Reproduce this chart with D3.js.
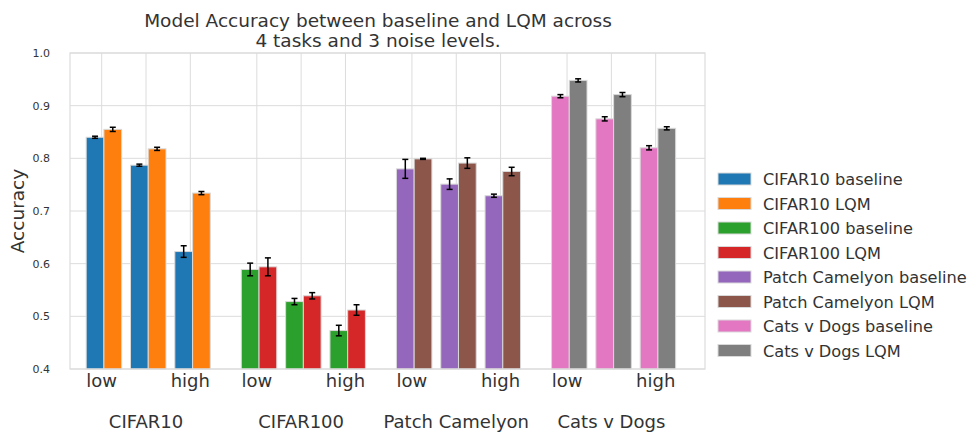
<!DOCTYPE html>
<html>
<head>
<meta charset="utf-8">
<script src="https://cdn.jsdelivr.net/npm/d3@7"></script>
<style>
  body { margin: 0; background: #fff; }
  svg text { font-family: "DejaVu Sans", sans-serif; }
</style>
</head>
<body>
<div id="chart"></div>
<script>
// ---------------------------------- DATA ---------------------------------- //

let tasks = ['CIFAR10', 'CIFAR100', 'Patch Camelyon', 'Cats v Dogs'];
let noise_levels = ['low', 'mid', 'high'];
let noise_tick_labels = ['low', '', 'high'];
let y_ticks = [0.4, 0.5, 0.6, 0.7, 0.8, 0.9, 1.0];

// one row per task, one value per noise level
let baseline_values = [
  [0.840, 0.787, 0.623],
  [0.589, 0.528, 0.473],
  [0.780, 0.751, 0.729],
  [0.918, 0.875, 0.820]
];
let baseline_errors = [
  [0.002, 0.002, 0.011],
  [0.012, 0.006, 0.010],
  [0.018, 0.010, 0.003],
  [0.003, 0.004, 0.004]
];
let lqm_values = [
  [0.855, 0.818, 0.734],
  [0.594, 0.539, 0.512],
  [0.799, 0.791, 0.775],
  [0.948, 0.921, 0.857]
];
let lqm_errors = [
  [0.004, 0.003, 0.003],
  [0.017, 0.006, 0.010],
  [0.001, 0.010, 0.008],
  [0.003, 0.004, 0.003]
];
let baseline_colors = ['#1f77b4', '#2ca02c', '#9467bd', '#e377c2'];
let lqm_colors = ['#ff7f0e', '#d62728', '#8c564b', '#7f7f7f'];

// ---------------------------------- SETTINGS ---------------------------------- //

let img_width = 969;
let img_height = 433;
let plot_left = 70;
let plot_right = 705;
let plot_top = 53;
let plot_bottom = 369;
let text_color = '#333333';
let grid_color = '#dcdcdc';

// position of each bar pair in "tick units" (3 per task, 1.5 gap between tasks)
function tickPos(t, n) { return t * 3.5 + n; }

let x = d3.scaleLinear().domain([0, 12.5]).range([101.7, 655.7]);
let y = d3.scaleLinear().domain([0.4, 1.0]).range([plot_bottom, plot_top]);

// ---------------------------------- CORE IMAGE ---------------------------------- //

let svg = d3.select('#chart')
  .append('svg')
  .attr('width', img_width)
  .attr('height', img_height);

// title
svg.append('text')
  .attr('x', 378).attr('y', 27)
  .attr('text-anchor', 'middle')
  .attr('fill', text_color)
  .style('font-size', '18.5px')
  .text('Model Accuracy between baseline and LQM across');
svg.append('text')
  .attr('x', 378).attr('y', 47)
  .attr('text-anchor', 'middle')
  .attr('fill', text_color)
  .style('font-size', '18.5px')
  .text('4 tasks and 3 noise levels.');

// ---------------------------------- GRID ---------------------------------- //

let g_grid = svg.append('g');
g_grid.selectAll('line.h')
  .data(y_ticks)
  .enter()
  .append('line')
  .attr('x1', plot_left).attr('x2', plot_right)
  .attr('y1', d => y(d)).attr('y2', d => y(d))
  .attr('stroke', grid_color).attr('stroke-width', 1);

let pair_positions = [];
tasks.forEach((t, ti) => noise_levels.forEach((n, ni) => pair_positions.push(tickPos(ti, ni))));

g_grid.selectAll('line.v')
  .data(pair_positions)
  .enter()
  .append('line')
  .attr('x1', d => x(d)).attr('x2', d => x(d))
  .attr('y1', plot_top).attr('y2', plot_bottom)
  .attr('stroke', grid_color).attr('stroke-width', 1);

// ---------------------------------- BARS ---------------------------------- //

let bar_rows = [];
tasks.forEach((t, ti) => {
  noise_levels.forEach((n, ni) => {
    bar_rows.push({ pos: tickPos(ti, ni), off: -0.35, v: baseline_values[ti][ni], e: baseline_errors[ti][ni], c: baseline_colors[ti] });
    bar_rows.push({ pos: tickPos(ti, ni), off: 0.05, v: lqm_values[ti][ni], e: lqm_errors[ti][ni], c: lqm_colors[ti] });
  });
});

let bar_w = x(0.4) - x(0);

let g_bars = svg.append('g');
g_bars.selectAll('rect')
  .data(bar_rows)
  .enter()
  .append('rect')
  .attr('x', d => x(d.pos + d.off))
  .attr('y', d => y(d.v))
  .attr('width', bar_w)
  .attr('height', d => y(0.4) - y(d.v))
  .attr('fill', d => d.c)
  .attr('stroke', '#d9d9d9')
  .attr('stroke-width', 1);

// error bars
let g_err = svg.append('g').attr('stroke', '#000').attr('stroke-width', 1.5);
bar_rows.forEach(d => {
  let cx = x(d.pos + d.off) + bar_w / 2;
  let y1 = y(d.v + d.e);
  let y2 = y(d.v - d.e);
  g_err.append('line').attr('x1', cx).attr('x2', cx).attr('y1', y1).attr('y2', y2);
  g_err.append('line').attr('x1', cx - 3).attr('x2', cx + 3).attr('y1', y1).attr('y2', y1);
  g_err.append('line').attr('x1', cx - 3).attr('x2', cx + 3).attr('y1', y2).attr('y2', y2);
});

// frame
svg.append('rect')
  .attr('x', plot_left).attr('y', plot_top)
  .attr('width', plot_right - plot_left).attr('height', plot_bottom - plot_top)
  .attr('fill', 'none')
  .attr('stroke', grid_color).attr('stroke-width', 1.2);

// ---------------------------------- AXES ---------------------------------- //

let y_axis = svg.append('g')
  .attr('transform', `translate(${plot_left},0)`)
  .call(d3.axisLeft(y).tickValues(y_ticks).tickFormat(d3.format('.1f')).tickSize(0).tickPadding(20));
y_axis.select('.domain').remove();
y_axis.selectAll('text').attr('fill', text_color).style('font-size', '11px');

svg.append('text')
  .attr('transform', `translate(24,${(plot_top + plot_bottom) / 2}) rotate(-90)`)
  .attr('text-anchor', 'middle')
  .attr('fill', text_color)
  .style('font-size', '18.5px')
  .text('Accuracy');

let g_xlab = svg.append('g');
tasks.forEach((t, ti) => {
  noise_tick_labels.forEach((lab, ni) => {
    g_xlab.append('text')
      .attr('x', x(tickPos(ti, ni)))
      .attr('y', 387)
      .attr('text-anchor', 'middle')
      .attr('fill', text_color)
      .style('font-size', '18px')
      .text(lab);
  });
  g_xlab.append('text')
    .attr('x', x(tickPos(ti, 1)))
    .attr('y', 428)
    .attr('text-anchor', 'middle')
    .attr('fill', text_color)
    .style('font-size', '18px')
    .text(t);
});

// ---------------------------------- LEGEND ---------------------------------- //

let legend_rows = [];
tasks.forEach((t, ti) => {
  legend_rows.push({ label: `${t} baseline`, c: baseline_colors[ti] });
  legend_rows.push({ label: `${t} LQM`, c: lqm_colors[ti] });
});

let g_legend = svg.append('g').attr('transform', 'translate(718,179)');
let leg = g_legend.selectAll('g')
  .data(legend_rows)
  .enter()
  .append('g')
  .attr('transform', (d, i) => `translate(0,${i * 24.5})`);
leg.append('rect')
  .attr('x', 0).attr('y', -6)
  .attr('width', 33).attr('height', 12)
  .attr('fill', d => d.c)
  .attr('stroke', '#d9d9d9').attr('stroke-width', 1);
leg.append('text')
  .attr('x', 45).attr('y', 6)
  .attr('fill', text_color)
  .style('font-size', '16.2px')
  .text(d => d.label);
</script>
</body>
</html>
